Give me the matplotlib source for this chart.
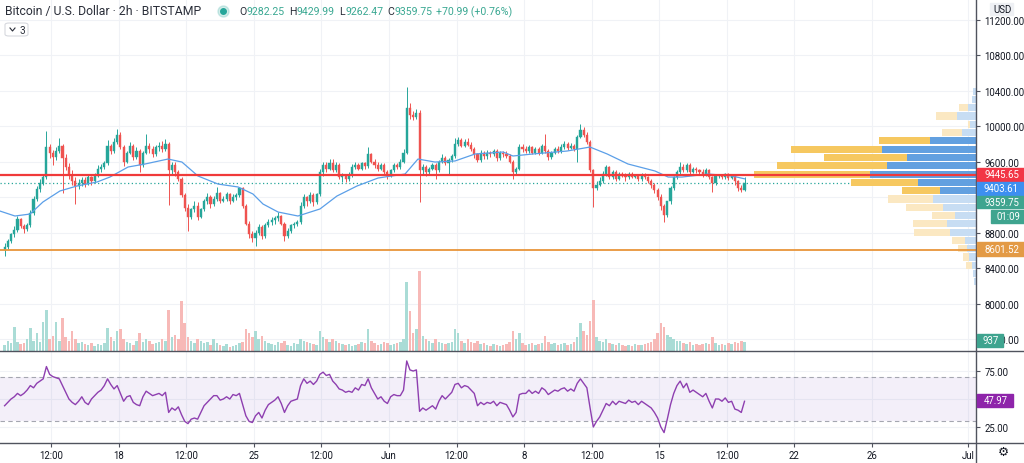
import matplotlib.pyplot as plt
import numpy as np
from matplotlib.patches import Rectangle, FancyBboxPatch
from matplotlib.lines import Line2D

plt.rcParams['font.family'] = ['Roboto', 'DejaVu Sans']

# ---- data (4h candles from 12 May, one row per day) ----
first_open = 8600
close = [
    8640, 8700, 8780, 8830, 8950, 8870,
    8840, 8880, 9020, 9180, 9290, 9360,
    9420, 9760, 9700, 9650, 9720, 9780,
    9640, 9540, 9450, 9380, 9320, 9360,
    9390, 9350, 9420, 9380, 9440, 9520,
    9540, 9580, 9780, 9720, 9820, 9900,
    9760, 9600, 9700, 9780, 9650, 9720,
    9560, 9700, 9780, 9740, 9680, 9760,
    9780, 9740, 9800, 9500, 9560, 9480,
    9400, 9220, 9080, 8980, 9060, 9100,
    8980, 9060, 9150, 9200, 9120, 9180,
    9240, 9160, 9180, 9230, 9150, 9200,
    9220, 9300, 9100, 8900, 8780, 8740,
    8800, 8860, 8760, 8880, 8920, 8940,
    8960, 8990, 8900, 8760, 8820, 8880,
    8900, 8920, 9100, 9200, 9150, 9220,
    9140, 9230, 9480, 9560, 9520, 9580,
    9500, 9560, 9420, 9440, 9400, 9450,
    9540, 9560, 9520, 9580, 9550, 9680,
    9600, 9560, 9520, 9560, 9480, 9440,
    9500, 9560, 9540, 9600, 9700, 10200,
    10120, 10100, 10150, 9500, 9540, 9480,
    9520, 9560, 9500, 9600, 9640, 9580,
    9620, 9660, 9800, 9840, 9780, 9820,
    9790, 9740, 9680, 9620, 9700, 9660,
    9700, 9680, 9720, 9640, 9700, 9680,
    9660, 9600, 9480, 9520, 9760, 9740,
    9720, 9760, 9700, 9740, 9700, 9780,
    9720, 9650, 9700, 9740, 9720, 9760,
    9800, 9750, 9780, 9740, 9880, 9960,
    9900, 9820, 9500, 9300, 9340, 9380,
    9460, 9540, 9420, 9480, 9400, 9460,
    9440, 9420, 9460, 9430, 9440, 9400,
    9450, 9420, 9380, 9340, 9280, 9200,
    9100, 9000, 9150, 9300, 9420, 9480,
    9540, 9500, 9560, 9480, 9520, 9500,
    9480, 9460, 9500, 9420, 9360, 9440,
    9440, 9420, 9460, 9410, 9440, 9380,
    9300, 9282.25, 9359.75,
]
high = [
    8680, 8730, 8800, 8870, 8990, 8960,
    8900, 8910, 9050, 9210, 9320, 9400,
    9450, 9944, 9800, 9730, 9760, 9870,
    9800, 9680, 9580, 9500, 9420, 9400,
    9430, 9420, 9450, 9440, 9470, 9560,
    9570, 9610, 9840, 9800, 9860, 9966,
    9930, 9790, 9720, 9820, 9800, 9760,
    9740, 9720, 9910, 9810, 9770, 9790,
    9820, 9830, 9850, 9820, 9600, 9590,
    9500, 9420, 9250, 9120, 9080, 9150,
    9140, 9080, 9180, 9240, 9220, 9210,
    9313, 9260, 9210, 9260, 9250, 9230,
    9250, 9313, 9310, 9120, 8930, 8820,
    8830, 8900, 8880, 8910, 8950, 8970,
    8990, 9031, 9000, 8920, 8850, 8900,
    8920, 8940, 9140, 9230, 9210, 9256,
    9240, 9250, 9515, 9600, 9590, 9628,
    9628, 9600, 9580, 9470, 9460, 9480,
    9570, 9594, 9580, 9600, 9590, 9763,
    9700, 9630, 9590, 9580, 9580, 9500,
    9520, 9580, 9580, 9630, 9740, 10439,
    10260, 10170, 10190, 10180, 9570, 9560,
    9540, 9580, 9580, 9620, 9685, 9660,
    9640, 9690, 9860, 9876, 9860, 9850,
    9860, 9820, 9760, 9700, 9730, 9720,
    9730, 9720, 9740, 9740, 9720, 9720,
    9718, 9680, 9620, 9540, 9797, 9800,
    9780, 9790, 9780, 9760, 9760, 9800,
    9910, 9740, 9720, 9760, 9770, 9800,
    9830, 9820, 9810, 9800, 9900, 10023,
    9990, 9932, 9840, 9520, 9380, 9420,
    9490, 9560, 9550, 9500, 9500, 9480,
    9480, 9470, 9480, 9480, 9460, 9460,
    9470, 9470, 9440, 9400, 9360, 9300,
    9230, 9120, 9160, 9320, 9440, 9500,
    9594, 9570, 9580, 9580, 9540, 9540,
    9520, 9510, 9530, 9510, 9440, 9460,
    9460, 9460, 9470, 9470, 9450, 9450,
    9390, 9330, 9429.99,
]
low = [
    8540, 8610, 8680, 8750, 8810, 8850,
    8800, 8820, 8860, 9000, 9150, 9260,
    9330, 9400, 9640, 9560, 9620, 9700,
    9250, 9500, 9400, 9330, 9120, 9290,
    9320, 9310, 9330, 9340, 9360, 9420,
    9480, 9510, 9560, 9680, 9700, 9800,
    9740, 9550, 9580, 9680, 9620, 9630,
    9482, 9540, 9680, 9700, 9650, 9660,
    9720, 9710, 9720, 9110, 9460, 9440,
    9380, 9200, 9040, 8817, 8950, 9030,
    8940, 8960, 9040, 9120, 9080, 9100,
    9160, 9130, 9140, 9160, 9120, 9140,
    9170, 9200, 9080, 8880, 8740, 8693,
    8648, 8770, 8730, 8740, 8860, 8890,
    8900, 8930, 8880, 8704, 8740, 8800,
    8850, 8870, 8900, 9080, 9099, 9130,
    9100, 9120, 9210, 9440, 9480, 9500,
    9480, 9480, 9400, 9370, 9370, 9380,
    9430, 9510, 9500, 9500, 9520, 9530,
    9580, 9530, 9490, 9500, 9460, 9403,
    9420, 9480, 9510, 9520, 9580, 9680,
    10080, 10070, 10080, 9144, 9460, 9440,
    9460, 9500, 9403, 9480, 9580, 9560,
    9450, 9600, 9640, 9780, 9760, 9760,
    9770, 9720, 9640, 9590, 9600, 9630,
    9630, 9650, 9660, 9610, 9620, 9650,
    9640, 9580, 9403, 9460, 9500, 9710,
    9700, 9700, 9680, 9680, 9670, 9690,
    9700, 9620, 9630, 9680, 9700, 9700,
    9740, 9730, 9740, 9720, 9600, 9860,
    9880, 9800, 9480, 9087, 9280, 9320,
    9360, 9440, 9400, 9400, 9380, 9390,
    9420, 9380, 9400, 9410, 9410, 9380,
    9380, 9400, 9360, 9300, 9250, 9170,
    9050, 8918, 8980, 9120, 9280, 9400,
    9460, 9480, 9480, 9460, 9470, 9470,
    9460, 9430, 9440, 9400, 9256, 9340,
    9410, 9400, 9400, 9390, 9400, 9340,
    9270, 9256, 9262.47,
]
# volume in hundreds of BTC
volume = [
    6, 10, 8, 24, 9, 7,
    8, 12, 23, 10, 18, 9,
    29, 41, 12, 15, 29, 10,
    33, 14, 10, 20, 12, 8,
    9, 7, 6, 8, 5, 7,
    6, 8, 23, 14, 10, 20,
    22, 12, 9, 8, 6, 10,
    18, 9, 12, 10, 7, 8,
    9, 12, 10, 41, 14, 16,
    12, 50, 28, 14, 10, 8,
    12, 10, 8, 9, 6, 12,
    8, 6, 5, 7, 4, 5,
    6, 8, 9, 22, 18, 14,
    20, 12, 15, 10, 8, 7,
    6, 9, 8, 10, 6, 5,
    8, 7, 12, 10, 9, 8,
    7, 6, 20, 14, 12, 9,
    12, 10, 8, 7, 6, 7,
    5, 6, 7, 9, 8, 22,
    10, 8, 6, 7, 9, 8,
    6, 7, 8, 9, 12, 69,
    40, 18, 22, 80, 15, 12,
    10, 8, 12, 9, 8, 7,
    8, 9, 22, 18, 10, 8,
    12, 9, 8, 10, 7, 8,
    6, 5, 7, 6, 5, 6,
    7, 9, 20, 12, 18, 8,
    6, 7, 8, 6, 7, 8,
    15, 9, 7, 8, 6, 7,
    8, 6, 7, 9, 14, 28,
    20, 16, 30, 51, 14, 10,
    9, 12, 8, 7, 6, 8,
    6, 5, 6, 5, 7, 6,
    6, 7, 8, 9, 12, 18,
    28, 24, 16, 14, 12, 10,
    10, 8, 7, 9, 6, 7,
    6, 7, 8, 7, 14, 8,
    6, 7, 6, 8, 7, 9,
    8, 10, 9.37,
]
rsi = [
    44, 47, 50, 52, 55, 53,
    55, 58, 62, 60, 64, 66,
    68, 79, 72, 70, 69, 68,
    62, 56, 50, 47, 45, 48,
    52, 47, 45, 50, 53, 56,
    58, 62, 68, 63, 59, 62,
    55, 48, 52, 53, 47, 45,
    44, 52, 57, 55, 53, 54,
    55, 53, 56, 38, 42, 40,
    43, 36, 30, 28, 32, 33,
    32, 38, 44, 47, 50, 53,
    53, 49, 50, 52, 50, 54,
    53, 55, 45, 35, 30, 29,
    35, 38, 33, 40, 45, 47,
    49, 52, 46, 38, 44, 48,
    49, 50, 62, 68, 64, 66,
    63, 66, 72, 74, 71, 72,
    66, 63, 59, 58, 56, 57,
    56, 60, 58, 63, 62, 68,
    60, 55, 50, 52, 48, 46,
    52, 54, 53, 53, 58, 84,
    76, 75, 76, 39, 42, 40,
    42, 44, 41, 48, 53, 50,
    53, 56, 63, 64, 60, 62,
    61, 58, 55, 44, 47, 45,
    47, 46, 48, 44, 47, 46,
    45, 40, 34, 38, 54, 55,
    55, 58, 55, 57, 55, 60,
    58, 54, 56, 58, 57, 59,
    60, 57, 59, 57, 64, 68,
    64, 60, 42, 25, 30, 34,
    40, 46, 44, 48, 45, 48,
    47, 46, 49, 47, 48, 45,
    48, 46, 44, 42, 38, 33,
    25, 20, 32, 45, 55, 62,
    66, 60, 64, 56, 58, 56,
    54, 52, 55, 48, 42, 50,
    50, 48, 51, 47, 48, 41,
    40, 38, 47.97,
]
# moving average (days since 12 May, price)
ma_days = [-0.16, 0.62, 1.40, 2.07, 2.95, 3.83, 4.87, 5.54, 6.48, 7.36, 8.55,
           9.27, 10.1, 11.14, 12.18, 12.95, 13.47, 14.25, 15.28, 16.42, 17.3,
           18.34, 19.43, 20.83, 21.5, 22.38, 23.42, 24.46, 25.91, 26.42, 27.46,
           29.22, 30.41, 31.3, 32.38, 33.78, 34.46, 35.18, 36.53, 37.77, 38.45]
ma_vals = [9042, 8986, 9008, 9144, 9268, 9324, 9369, 9425, 9538, 9572, 9628,
           9594, 9437, 9346, 9313, 9234, 9121, 9031, 8986, 9065, 9211,
           9324, 9414, 9459, 9628, 9594, 9606, 9685, 9707, 9662, 9685,
           9718, 9763, 9685, 9572, 9493, 9425, 9425, 9459, 9437, 9403.61]

# visible-range volume profile, rows from the top price down
vp_top, vp_step = 10439, 93.4
vp_up = [3, 4, 8, 19, 6, 14, 46, 94, 69, 89, 106, 58, 36, 43, 33, 21, 29, 26, 11, 9, 7, 4, 3, 2]
vp_down = [0, 0, 9, 21, 2, 20, 51, 91, 83, 110, 116, 67, 38, 45, 37, 23, 34, 36, 13, 9, 6, 6, 0, 0]
value_area = range(6, 13)

red_level = 9445.65
orange_level = 8601.52

price_ticks = [7600, 8000, 8400, 8800, 9200, 9600, 10000, 10400, 10800, 11200]
tick_days = [2.5, 6, 9.5, 13, 16.5, 20, 23.5, 27, 30.5, 34, 37.5, 41, 45, 50]
tick_labels = ['12:00', '18', '12:00', '25', '12:00', 'Jun', '12:00', '8',
               '12:00', '15', '12:00', '22', '26', 'Jul']
header_title = 'Bitcoin / U.S. Dollar \u00b7 2h \u00b7 BITSTAMP'
header_ohlc = [('O', '9282.25'), ('H', '9429.99'), ('L', '9262.47'),
               ('C', '9359.75')]
header_change = '+70.99 (+0.76%)'

# ---- figure ----
W, H = 1024, 464
fig = plt.figure(figsize=(10.24, 4.64), dpi=100)


def fx(x):
    return x / W


def fy(y):
    return 1 - y / H


GREEN = '#26a69a'
RED = '#ef5350'
GRID = '#f0f2f6'
TXT = '#131722'
FS = 6.9

close = np.array(close, float)
high = np.array(high, float)
low = np.array(low, float)
opens = np.r_[first_open, close[:-1]]
n = len(close)
t = (np.arange(n) + 0.5) / 6
up = close >= opens
col = np.where(up, GREEN, RED)
xlim = (-0.155, 50.41)

ax = fig.add_axes([0, fy(352), fx(976), 352 / H])
rax = fig.add_axes([0, fy(444), fx(976), 91 / H])

# candles
ax.vlines(t, low, high, colors=col, lw=0.7, zorder=3)
body = np.maximum(np.abs(close - opens), 6)
ax.bar(t, body, bottom=np.minimum(close, opens), width=0.11, color=col,
       edgecolor=col, lw=0.3, zorder=4)
ax.plot(ma_days, ma_vals, color='#5b9fe8', lw=0.9, zorder=5)
ax.axhline(close[-1], color=GREEN, ls=(0, (1, 2)), lw=0.9, zorder=2)

ax.set_xlim(*xlim)
ax.set_ylim(7465, 11431)
ax.set_yticks(price_ticks)
ax.set_yticklabels(['' if p == 9200 else f'{p:.2f}' for p in price_ticks])
ax.set_xticks(tick_days)
ax.grid(color=GRID, lw=0.8)
ax.set_axisbelow(True)
for s in ax.spines.values():
    s.set_visible(False)

# volume overlay
vax = ax.twinx()
vcol = np.where(up, '#aadcd6', '#f7b9b7')
vax.bar(t, volume, width=0.13, color=vcol, zorder=1)
vax.set_ylim(0, 350)
vax.axis('off')

# volume profile on the right
vpax = ax.twiny()
rows = np.arange(len(vp_up))
centres = vp_top - vp_step * (rows + 0.5)
solid = np.isin(rows, list(value_area))
blue_c = np.where(solid, '#62a0e0', '#c7ddf3')
yel_c = np.where(solid, '#f6c860', '#fbe8c2')
vpax.barh(centres, vp_up, left=0, height=vp_step * 0.86, color=blue_c)
vpax.barh(centres, vp_down, left=vp_up, height=vp_step * 0.86, color=yel_c)
vpax.set_xlim(976, 0)
vpax.axhline(red_level, color='#f03a3a', lw=1.6)
vpax.axhline(orange_level, color='#e8953a', lw=1.3)
vpax.axis('off')

ax.yaxis.tick_right()
ax.tick_params(axis='y', length=3, color='#50535e', labelsize=FS,
               labelcolor=TXT, pad=3)
ax.tick_params(axis='x', length=0, labelbottom=False, labeltop=False)

# RSI pane
rax.axhspan(30, 70, color='#7e57c2', alpha=0.09, lw=0)
for lvl in (30, 70):
    rax.axhline(lvl, color='#a4a6b0', lw=0.8, ls=(0, (4, 3)))
rax.plot(t, rsi, color='#8e3fb0', lw=1.0)
rax.set_xlim(*xlim)
rax.set_ylim(10.7, 92)
rax.set_yticks([25, 50, 75])
rax.set_yticklabels(['25.00', '', '75.00'])
rax.yaxis.tick_right()
rax.tick_params(axis='y', length=3, color='#50535e', labelsize=FS,
                labelcolor=TXT, pad=3)
rax.set_xticks(tick_days)
rax.set_xticklabels(tick_labels)
rax.tick_params(axis='x', length=3, color='#50535e', labelsize=FS,
                labelcolor=TXT, pad=2)
rax.grid(color=GRID, lw=0.8)
rax.set_axisbelow(True)
for s in rax.spines.values():
    s.set_visible(False)

# pane borders
for xs, ys in [((0, W), (352, 352)), ((0, W), (444, 444)), ((976, 976), (0, H))]:
    fig.add_artist(Line2D([fx(x) for x in xs], [fy(y) for y in ys],
                          color='#50535e', lw=1.0, transform=fig.transFigure))


# price scale tags
def tag(y0, y1, x0, x1, text, color, tc='white'):
    fig.add_artist(Rectangle((fx(x0), fy(y1)), fx(x1 - x0), (y1 - y0) / H,
                             color=color, transform=fig.transFigure, zorder=5))
    fig.text(fx((x0 + x1) / 2 + 1), fy((y0 + y1) / 2), text, color=tc,
             fontsize=FS, ha='center', va='center', zorder=6)


tag(169, 182, 977, W, f'{red_level:.2f}', '#f23645')
tag(183, 196, 977, W, f'{ma_vals[-1]:.2f}', '#3d8ff0')
tag(197, 209, 977, W, f'{close[-1]:.2f}', '#3fa48f')
tag(211, 224, 991, W, '01:09', '#3fa48f')
tag(243, 257, 977, W, f'{orange_level:.2f}', '#e39a45')
tag(335, 348, 977, 1003, f'{volume[-1] * 100:.0f}', '#3fa48f')
tag(395, 408, 977, 1013, f'{rsi[-1]:.2f}', '#8e24aa')
tag(4, 16, 990, 1013, 'USD', '#eef0f4', tc=TXT)
fig.text(fx(1003), fy(452), '\u2699', color=TXT, fontsize=9, ha='center',
         va='center', family='DejaVu Sans')

# header
fig.text(fx(5), fy(12), header_title, fontsize=8.8, color='#2a2e39',
         va='center')
fig.add_artist(Line2D([fx(223)], [fy(12)], marker='o', ms=8, color=GREEN,
                      alpha=0.2, transform=fig.transFigure))
fig.add_artist(Line2D([fx(223)], [fy(12)], marker='o', ms=4, color=GREEN,
                      transform=fig.transFigure))

renderer = fig.canvas.get_renderer()
cursor = 239
pieces = []
for letter, val in header_ohlc:
    pieces += [(letter, '#2a2e39', 0.5), (val, '#3aa892', 4)]
pieces.append((header_change, '#3aa892', 0))
for text, color, gap in pieces:
    tx = fig.text(fx(cursor), fy(12), text, fontsize=7.6, color=color,
                  va='center')
    cursor += tx.get_window_extent(renderer).width + gap

fig.add_artist(FancyBboxPatch((fx(5), fy(37)), fx(23), 13 / H,
                              boxstyle='round,pad=0,rounding_size=0.004',
                              fc='white', ec='#d6d8de', lw=0.8,
                              transform=fig.transFigure))
fig.add_artist(Line2D([fx(10), fx(12.5), fx(15)], [fy(29), fy(32), fy(29)],
                      color='#2a2e39', lw=0.8, transform=fig.transFigure))
fig.text(fx(19), fy(30.5), '3', fontsize=7.2, color='#2a2e39', va='center')

fig.savefig('out.png', dpi=100)
